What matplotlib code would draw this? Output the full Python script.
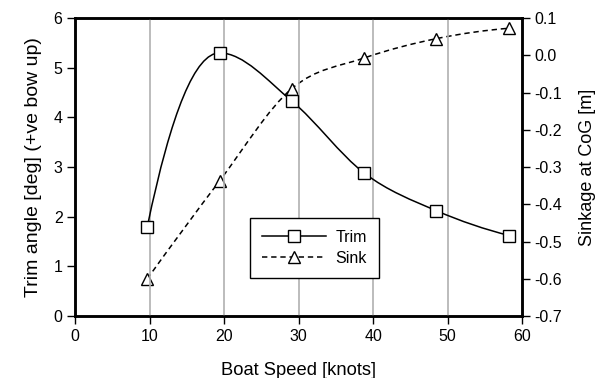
import numpy as np
import matplotlib.pyplot as plt
from matplotlib.path import Path
from matplotlib.patches import PathPatch
from matplotlib.lines import Line2D

plt.rcParams["font.family"] = ["Liberation Sans", "DejaVu Sans"]
plt.rcParams["font.size"] = 11.5

speed = [9.7, 19.4, 29.1, 38.8, 48.5, 58.3]
trim = [1.8, 5.3, 4.33, 2.88, 2.12, 1.62]
sink = [-0.60, -0.337, -0.089, -0.007, 0.045, 0.073]
sink_ticks = [-0.7, -0.6, -0.5, -0.4, -0.3, -0.2, -0.1, 0.0, 0.1]


def smooth_path(xs, ys):
    # bezier through the points, flat tangent at local peaks
    p = np.column_stack([xs, ys]).astype(float)
    n = len(p)
    t = np.zeros_like(p)
    for i in range(1, n - 1):
        t[i] = (p[i + 1] - p[i - 1]) / 2
        if (p[i, 1] - p[i - 1, 1]) * (p[i + 1, 1] - p[i, 1]) <= 0:
            t[i, 1] = 0
    t[0] = 2 * (p[1] - p[0]) - t[1]
    t[-1] = 2 * (p[-1] - p[-2]) - t[-2]
    verts = [p[0]]
    codes = [Path.MOVETO]
    for i in range(n - 1):
        verts += [p[i] + t[i] / 3, p[i + 1] - t[i + 1] / 3, p[i + 1]]
        codes += [Path.CURVE4] * 3
    return Path(verts, codes)


fig = plt.figure(figsize=(6.1, 3.78), dpi=100)
ax = fig.add_axes([0.123, 0.164, 0.733, 0.788])
ax2 = ax.twinx()

ax.set_xlim(0, 60)
ax.set_ylim(0, 6)
ax2.set_ylim(-0.7, 0.1)

for gx in [10, 20, 30, 40, 50]:
    ax.axvline(gx, color="#b0b0b0", lw=1.2, zorder=0)

dash = (0, (3.5, 2.5))
ax.add_patch(PathPatch(smooth_path(speed, trim), fill=False, ec="black", lw=1.1, zorder=2))
ax2.add_patch(PathPatch(smooth_path(speed, sink), fill=False, ec="black", lw=1.1,
                        linestyle=dash, zorder=2))

ax.plot(speed, trim, ls="none", marker="s", ms=9, mfc="white", mec="black", mew=1.0, zorder=3)
ax2.plot(speed, sink, ls="none", marker="^", ms=9, mfc="white", mec="black", mew=1.0, zorder=3)

ax.set_xticks(range(0, 61, 10))
ax.set_yticks(range(0, 7))
ax2.set_yticks(sink_ticks)
ax2.set_yticklabels([f"{v:.1f}" for v in sink_ticks])

for a in (ax, ax2):
    for s in a.spines.values():
        s.set_linewidth(1.8)
    a.tick_params(direction="out", length=6, width=1.0, pad=3)

ax.set_xlabel("Boat Speed [knots]", fontsize=13.2, labelpad=13)
ax.set_ylabel("Trim angle [deg] (+ve bow up)", fontsize=14, labelpad=8)
ax2.set_ylabel("Sinkage at CoG [m]", fontsize=13, rotation=90, labelpad=12)

handles = [
    Line2D([], [], color="black", lw=1.1, marker="s", ms=9, mfc="white", mec="black"),
    Line2D([], [], color="black", lw=1.1, ls=dash, marker="^", ms=9, mfc="white", mec="black"),
]
leg = ax.legend(handles, ["Trim", "Sink"], loc="upper left", bbox_to_anchor=(0.391, 0.329),
                borderaxespad=0, fontsize=11.5, fancybox=False, edgecolor="black",
                framealpha=1, handlelength=4.0, borderpad=0.75, labelspacing=0.35,
                handletextpad=0.6)
leg.get_frame().set_linewidth(1.0)
ax.set_zorder(ax2.get_zorder() + 1)
ax.patch.set_visible(False)

fig.savefig("out.png", dpi=100)
